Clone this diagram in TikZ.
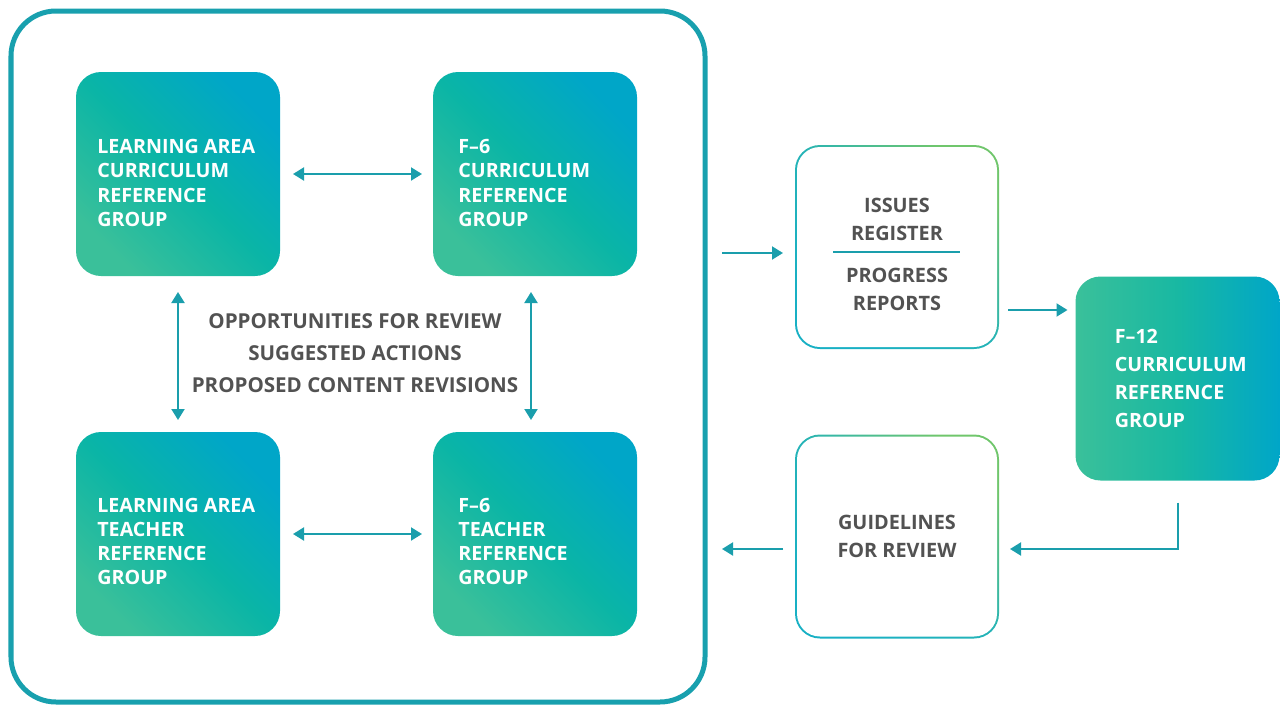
\documentclass[tikz,border=0pt]{standalone}
\usepackage{fontspec}
\setmainfont{Open Sans}
\usetikzlibrary{arrows.meta,calc,positioning}
\definecolor{frameteal}{RGB}{24,160,174}
\definecolor{arrteal}{RGB}{26,158,172}
\definecolor{boxblue}{RGB}{0,166,200}
\definecolor{boxmid}{RGB}{10,181,166}
\definecolor{boxgreen}{RGB}{58,192,154}
\definecolor{edgeteal}{RGB}{24,176,196}
\definecolor{edgegreen}{RGB}{112,198,108}
\definecolor{txtgray}{RGB}{82,82,82}
\tikzset{
  gbox/.style={rounded corners=.5cm, minimum size=4.08cm, inner sep=0pt, outer sep=0pt,
    top color=boxblue, bottom color=boxgreen, middle color=boxmid, shading angle=-45},
  obox/.style={rounded corners=.5cm, minimum size=4.08cm, inner sep=0pt, outer sep=0pt,
    top color=edgegreen, bottom color=edgeteal, middle color=edgeteal!85!edgegreen, shading angle=-45,
    path picture={\fill[white, rounded corners=.46cm]
      ($(path picture bounding box.south west)+(.04,.04)$) rectangle
      ($(path picture bounding box.north east)-(.04,.04)$);}},
  wtext/.style={text=white, font=\bfseries\fontsize{11.2}{13.7}\selectfont, align=left, inner sep=0pt, anchor=west},
  gtext/.style={text=txtgray, font=\bfseries\fontsize{11.3}{15.9}\selectfont, align=center, inner sep=0pt},
  arr/.style={-{Triangle[length=.22cm,width=.26cm]}, line width=.04cm, draw=arrteal},
  darr/.style={{Triangle[length=.22cm,width=.26cm]}-{Triangle[length=.22cm,width=.26cm]}, line width=.04cm, draw=arrteal}
}

\begin{document}
\begin{tikzpicture}
  \useasboundingbox (0,0) rectangle (25.68,-14.14);

  \node[draw=frameteal, line width=.1cm, rounded corners=.9cm, minimum width=13.88cm,
    minimum height=13.82cm, inner sep=0pt, outer sep=0pt] (FRAME) at (7.16,-7.13) {};

  \node[gbox] (LAC) at (3.56,-3.48) {};
  \node[gbox] (F6C) at (10.7,-3.48) {};
  \node[gbox] (LAT) at (3.56,-10.68) {};
  \node[gbox] (F6T) at (10.7,-10.68) {};
  \node[gbox, left color=boxgreen, right color=boxblue, middle color=boxmid!70!boxgreen] (F12) at (23.55,-7.57) {};

  \node[wtext] (LACtxt) at ($(LAC.west)+(.42,-.18)$) {LEARNING AREA\\CURRICULUM\\REFERENCE\\GROUP};
  \node[wtext] (F6Ctxt) at ($(F6C.west)+(.5,-.18)$) {F–6\\CURRICULUM\\REFERENCE\\GROUP};
  \node[wtext] (LATtxt) at ($(LAT.west)+(.42,-.15)$) {LEARNING AREA\\TEACHER\\REFERENCE\\GROUP};
  \node[wtext] (F6Ttxt) at ($(F6T.west)+(.5,-.15)$) {F–6\\TEACHER\\REFERENCE\\GROUP};
  \node[wtext, font=\bfseries\fontsize{11.2}{15.9}\selectfont] (F12txt) at ($(F12.west)+(.78,0)$) {F–12\\CURRICULUM\\REFERENCE\\GROUP};

  \node[gtext, font=\bfseries\fontsize{11.7}{18.2}\selectfont] (REVIEW) at (7.1,-7.06)
    {OPPORTUNITIES FOR REVIEW\\SUGGESTED ACTIONS\\PROPOSED CONTENT REVISIONS};

  \node[obox] (ISSUES) at (17.94,-4.94) {};
  \node[gtext] (ISSUEStxt) at ($(ISSUES.center)+(0,.56)$) {ISSUES\\REGISTER};
  \node[gtext] (PROGRESStxt) at ($(ISSUES.center)+(0,-.85)$) {PROGRESS\\REPORTS};
  \draw[arrteal, line width=.04cm] ($(ISSUES.center)+(-1.28,-.1)$) -- ($(ISSUES.center)+(1.26,-.1)$);

  \node[obox] (GUIDE) at (17.94,-10.73) {};
  \node[gtext] (GUIDEtxt) at (GUIDE.center) {GUIDELINES\\FOR REVIEW};

  \draw[darr, shorten <=.26cm, shorten >=.22cm] (LAC) -- (F6C);
  \draw[darr, shorten <=.26cm, shorten >=.22cm] (LAT) -- (F6T);
  \draw[darr, shorten <=.32cm, shorten >=.24cm] (LAC) -- (LAT);
  \draw[darr, shorten <=.32cm, shorten >=.24cm] ($(F6C.south)+(-.08,0)$) -- ($(F6T.north)+(-.08,0)$);

  \draw[arr, shorten >=.24cm] ($(FRAME.east |- ISSUES.west)+(.34,-.12)$) -- ($(ISSUES.west)+(0,-.12)$);
  \draw[arr, shorten <=.18cm, shorten >=.16cm] ($(ISSUES.east)+(0,-1.26)$) -- ($(ISSUES.east -| F12.west)+(0,-1.26)$);
  \draw[arr] ($(F12.south)+(0,-.44)$) |- ($(GUIDE.east)+(.22,-.25)$);
  \draw[arr] ($(GUIDE.west)+(-.24,-.25)$) -- ($(FRAME.east |- GUIDE.west)+(.34,-.25)$);
\end{tikzpicture}
\end{document}
